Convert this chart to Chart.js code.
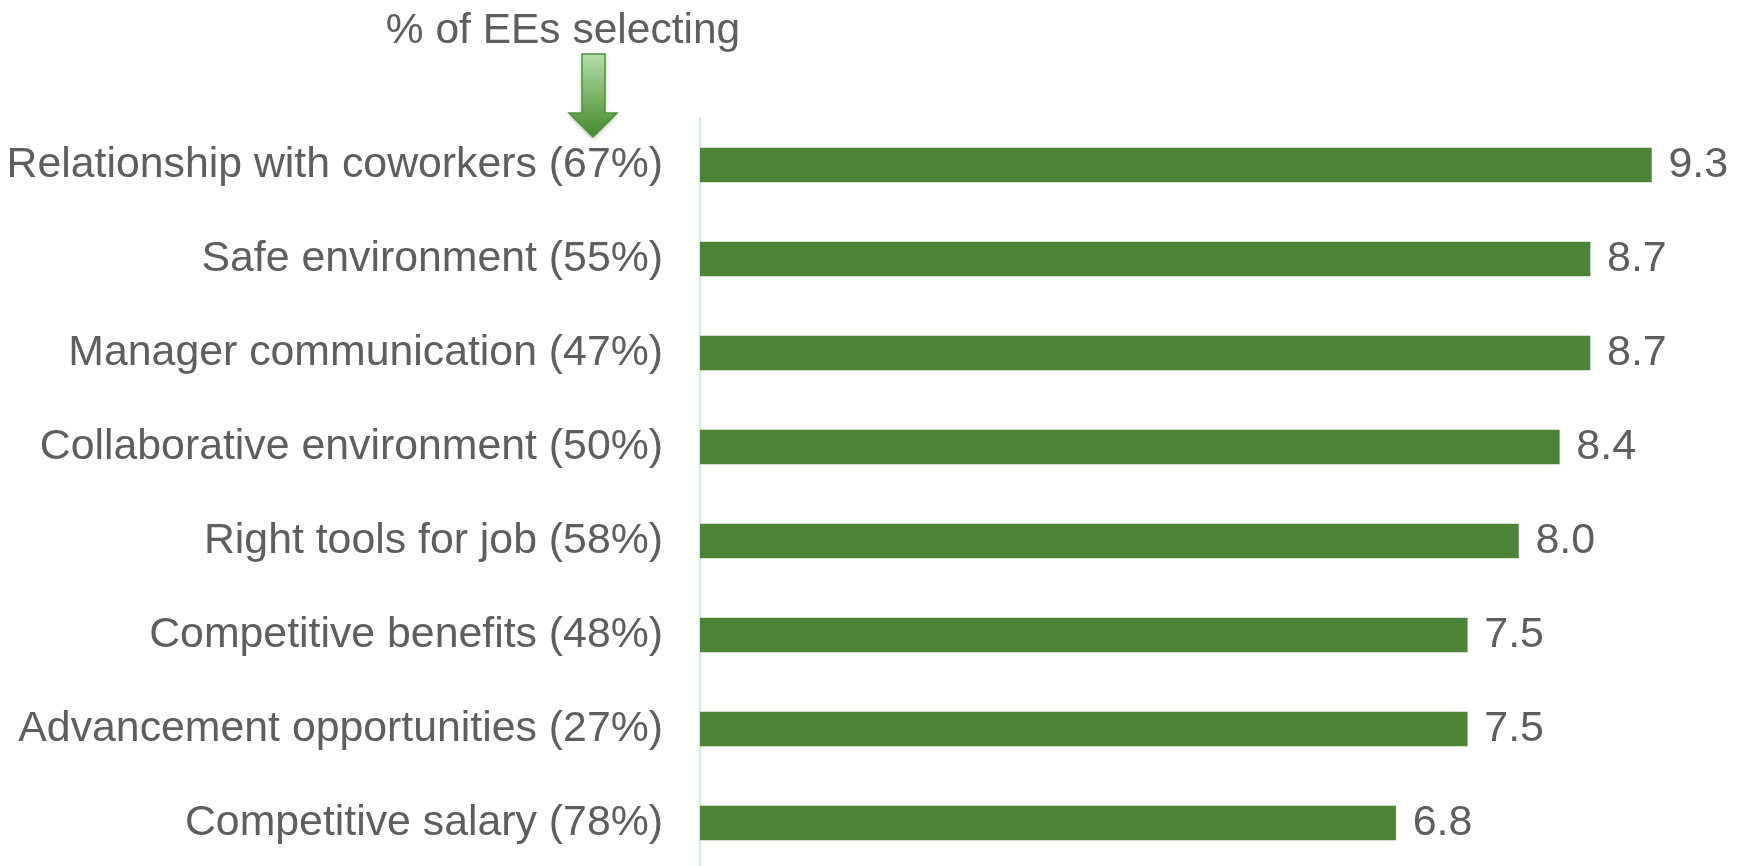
<!DOCTYPE html>
<html>
<head>
<meta charset="utf-8">
<script src="https://cdn.jsdelivr.net/npm/chart.js@4.4.0/dist/chart.umd.min.js"></script>
<style>
  html, body { margin: 0; padding: 0; background: #fff; overflow: hidden; }
  canvas { display: block; }
</style>
</head>
<body>
<canvas id="myChart" width="1740" height="870"></canvas>
<script>
// Drivers, share of employees selecting each one, and average score
const categories = [
  'Relationship with coworkers',
  'Safe environment',
  'Manager communication',
  'Collaborative environment',
  'Right tools for job',
  'Competitive benefits',
  'Advancement opportunities',
  'Competitive salary',
];
const selectingPct = [67, 55, 47, 50, 58, 48, 27, 78];
const scores = [9.3, 8.7, 8.7, 8.4, 8.0, 7.5, 7.5, 6.8];

const headerText = '% of EEs selecting';

const FONT = '"Liberation Sans", Arial, sans-serif';
const TEXT_GREY = '#5e5e5e';
const BAR_GREEN = '#4b8337';

const labels = categories.map((c, i) => `${c} (${selectingPct[i]}%)`);

// Score numbers to the right of each bar
const valueLabelsPlugin = {
  id: 'valueLabels',
  afterDatasetsDraw(chart) {
    const { ctx } = chart;
    const meta = chart.getDatasetMeta(0);
    ctx.save();
    ctx.font = `43px ${FONT}`;
    ctx.fillStyle = TEXT_GREY;
    ctx.textAlign = 'left';
    ctx.textBaseline = 'middle';
    meta.data.forEach((bar, i) => {
      ctx.fillText(scores[i].toFixed(1), bar.x + 17, bar.y);
    });
    ctx.restore();
  },
};

// Header text with the down arrow pointing at the percentages
const headerPlugin = {
  id: 'header',
  afterDraw(chart) {
    const { ctx } = chart;
    ctx.save();
    ctx.font = `42.5px ${FONT}`;
    ctx.fillStyle = TEXT_GREY;
    ctx.textAlign = 'center';
    ctx.textBaseline = 'alphabetic';
    ctx.fillText(headerText, 563, 43);

    const cx = 593;
    const shaftL = 582, shaftR = 605, top = 54, headY = 113;
    const headL = 569, headR = 617, tip = 137;
    const grad = ctx.createLinearGradient(0, top, 0, tip);
    grad.addColorStop(0, '#b5dfab');
    grad.addColorStop(0.55, '#78ae62');
    grad.addColorStop(1, '#468a2e');
    ctx.beginPath();
    ctx.moveTo(shaftL, top);
    ctx.lineTo(shaftR, top);
    ctx.lineTo(shaftR, headY);
    ctx.lineTo(headR, headY);
    ctx.lineTo(cx, tip);
    ctx.lineTo(headL, headY);
    ctx.lineTo(shaftL, headY);
    ctx.closePath();
    ctx.shadowColor = 'rgba(0,0,0,0.3)';
    ctx.shadowBlur = 4;
    ctx.shadowOffsetY = 2;
    ctx.fillStyle = grad;
    ctx.fill();
    ctx.shadowColor = 'transparent';
    ctx.strokeStyle = '#4f9236';
    ctx.lineWidth = 1.5;
    ctx.stroke();
    ctx.restore();
  },
};

new Chart(document.getElementById('myChart'), {
  type: 'bar',
  data: {
    labels,
    datasets: [{
      data: scores,
      backgroundColor: BAR_GREEN,
      borderWidth: 0,
      barThickness: 34,
    }],
  },
  options: {
    indexAxis: 'y',
    responsive: false,
    animation: false,
    layout: {
      padding: { top: 118, right: 17, bottom: 0, left: 0 },
    },
    plugins: {
      legend: { display: false },
      tooltip: { enabled: false },
    },
    scales: {
      x: {
        display: false,
        min: 0,
        max: 10,
      },
      y: {
        afterFit(scale) {
          // fixed label column; labels must not add vertical padding
          scale.width = 700;
          scale.paddingTop = 0;
          scale.paddingBottom = 0;
        },
        grid: { display: false, drawTicks: false },
        border: { display: true, color: '#c8f0d8', width: 2 },
        ticks: {
          color: TEXT_GREY,
          padding: 37,
          font: { family: FONT, size: 42.8 },
        },
      },
    },
  },
  plugins: [valueLabelsPlugin, headerPlugin],
});
</script>
</body>
</html>
